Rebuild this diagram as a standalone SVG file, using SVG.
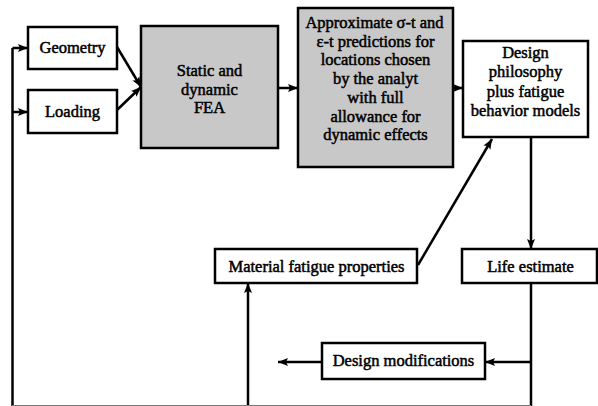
<svg xmlns="http://www.w3.org/2000/svg" width="598" height="406" viewBox="0 0 598 406">
<style>
.box{fill:#fff;stroke:#000;stroke-width:2.5}
.gray{fill:#c8c8c8}
.t{font-family:"Liberation Serif","Times New Roman",serif;font-size:16.5px;fill:#000;stroke:#000;stroke-width:0.5;text-anchor:middle}
.ln{fill:none;stroke:#000;stroke-width:2.5}
.ar{marker-end:url(#ah)}
</style>
<defs>
<marker id="ah" markerUnits="userSpaceOnUse" markerWidth="10" markerHeight="10" viewBox="0 0 10 10" refX="10" refY="5" orient="auto">
<path d="M0,1 L10,5 L0,9 L2,5 Z" fill="#000"/>
</marker>
</defs>
<rect width="598" height="406" fill="#fff"/>
<g id="connectors">
<polyline class="ln" points="12.5,406 12.5,48"/>
<line class="ln ar" x1="12.5" y1="48" x2="28" y2="48"/>
<line class="ln ar" x1="12.5" y1="112" x2="28" y2="112"/>
<line class="ln ar" x1="117" y1="47" x2="141" y2="87"/>
<line class="ln ar" x1="117" y1="110" x2="141" y2="87"/>
<line class="ln ar" x1="278" y1="88" x2="298" y2="88"/>
<line class="ln ar" x1="453" y1="88" x2="463" y2="88"/>
<line class="ln ar" x1="531" y1="137" x2="531" y2="249"/>
<line class="ln ar" x1="418" y1="265" x2="492" y2="139"/>
<line class="ln ar" x1="248" y1="406" x2="248" y2="283"/>
<line class="ln" x1="531" y1="283" x2="531" y2="406"/>
<line class="ln ar" x1="531" y1="362" x2="485" y2="362"/>
<line class="ln ar" x1="322" y1="362" x2="278" y2="362"/>
<line x1="12" y1="405.5" x2="531" y2="405.5" stroke="#777" stroke-width="1"/>
</g>
<g id="geometry">
<rect class="box" x="28" y="27" width="89" height="42"/>
<text class="t" x="72.5" y="53">Geometry</text>
</g>
<g id="loading">
<rect class="box" x="28" y="90" width="89" height="43"/>
<text class="t" x="72.5" y="117">Loading</text>
</g>
<g id="fea">
<rect class="box gray" x="141" y="26" width="137" height="122"/>
<text class="t" x="209.5" y="76">Static and</text>
<text class="t" x="209.5" y="94.5">dynamic</text>
<text class="t" x="209.5" y="113">FEA</text>
</g>
<g id="predictions">
<rect class="box gray" x="298" y="8" width="155" height="159"/>
<text class="t" x="374.5" y="28">Approximate σ-t and</text>
<text class="t" x="375.5" y="46.7">ε-t predictions for</text>
<text class="t" x="375.5" y="65.4">locations chosen</text>
<text class="t" x="375.5" y="84.1">by the analyt</text>
<text class="t" x="375.5" y="102.8">with full</text>
<text class="t" x="375.5" y="121.5">allowance for</text>
<text class="t" x="375.5" y="140.2">dynamic effects</text>
</g>
<g id="design">
<rect class="box" x="463" y="41" width="125" height="96"/>
<text class="t" x="525.5" y="58">Design</text>
<text class="t" x="525.5" y="77.3">philosophy</text>
<text class="t" x="525.5" y="96.6">plus fatigue</text>
<text class="t" x="525.5" y="116">behavior models</text>
</g>
<g id="material">
<rect class="box" x="215" y="249" width="202" height="34"/>
<text class="t" x="316.5" y="272">Material fatigue properties</text>
</g>
<g id="life">
<rect class="box" x="462" y="249" width="135" height="34"/>
<text class="t" x="530.5" y="272">Life estimate</text>
</g>
<g id="modifications">
<rect class="box" x="322" y="343" width="163" height="36"/>
<text class="t" x="403.5" y="366">Design modifications</text>
</g>
</svg>
